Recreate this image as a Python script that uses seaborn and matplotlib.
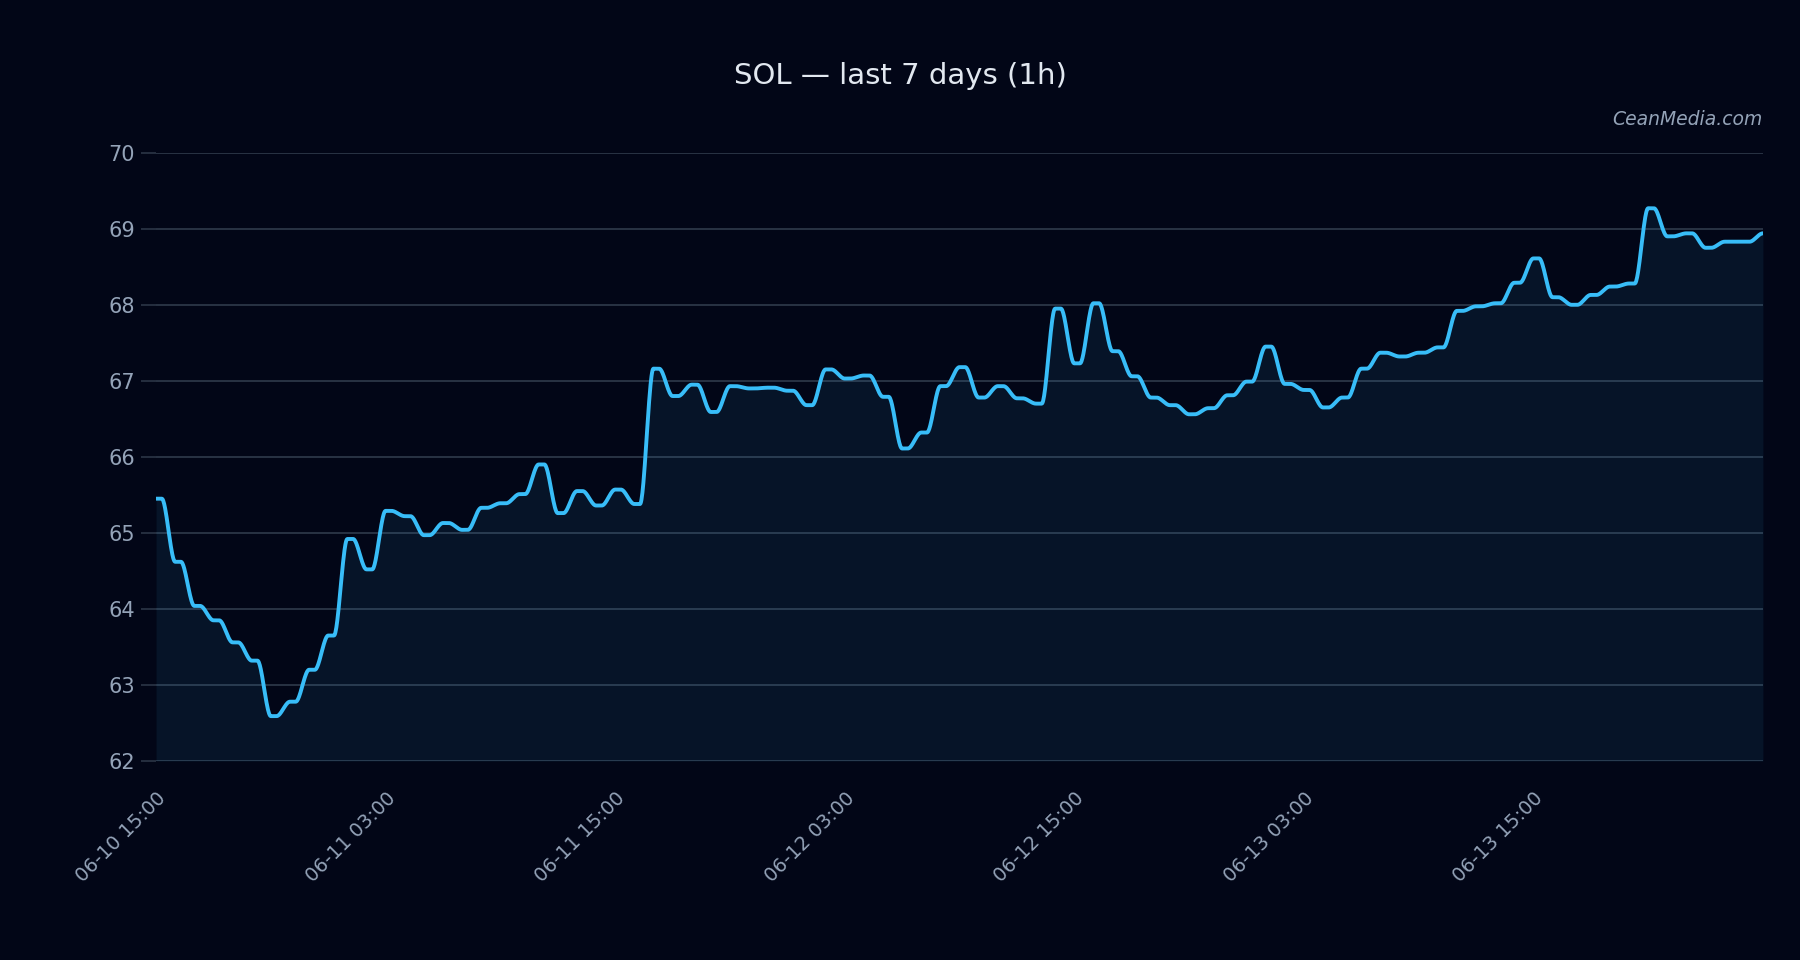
import numpy as np
import pandas as pd
import matplotlib
matplotlib.use("Agg")
import matplotlib.pyplot as plt
import matplotlib.dates as mdates
import seaborn as sns

# ---- data (hourly SOL price) ----
start_time = "2025-06-10 15:00"
prices = [
    65.45, 64.62, 64.04, 63.85, 63.56, 63.32, 62.59, 62.78, 63.20, 63.65,
    64.92, 64.52, 65.29, 65.22, 64.97, 65.13, 65.04, 65.33, 65.39, 65.51,
    65.90, 65.26, 65.55, 65.36, 65.57, 65.38, 67.16, 66.80, 66.95, 66.59,
    66.93, 66.90, 66.91, 66.87, 66.68, 67.15, 67.03, 67.07, 66.79, 66.11,
    66.32, 66.93, 67.18, 66.78, 66.93, 66.77, 66.70, 67.95, 67.23, 68.02,
    67.39, 67.06, 66.78, 66.68, 66.56, 66.64, 66.81, 66.99, 67.45, 66.96,
    66.88, 66.65, 66.78, 67.16, 67.37, 67.32, 67.37, 67.44, 67.92, 67.98,
    68.02, 68.29, 68.61, 68.10, 68.00, 68.13, 68.24, 68.28, 69.27, 68.90,
    68.94, 68.75, 68.83, 68.83, 68.94,
]
title_text = "SOL \u2014 last 7 days (1h)"
watermark = "CeanMedia.com"
y_ticks = [62, 63, 64, 65, 66, 67, 68, 69, 70]
tick_every_hours = 12

times = pd.date_range(start_time, periods=len(prices), freq="h")


def smooth_step_curve(x, y, hold=0.3, n_sub=40):
    """Each value is held briefly, then eases (smoothstep) into the next value."""
    x = np.asarray(x, float)
    y = np.asarray(y, float)
    xs, ys = [], []
    for i in range(len(x) - 1):
        t = np.linspace(0, 1, n_sub, endpoint=False)
        s = np.clip((t - hold) / (1 - hold), 0, 1)
        e = 3 * s**2 - 2 * s**3
        xs.append(x[i] + t * (x[i + 1] - x[i]))
        ys.append(y[i] + (y[i + 1] - y[i]) * e)
    xs.append([x[-1]])
    ys.append([y[-1]])
    return np.concatenate(xs), np.concatenate(ys)


xnum = mdates.date2num(times.to_pydatetime())
xs, ys = smooth_step_curve(xnum, prices)
df = pd.DataFrame({"time": pd.to_datetime(mdates.num2date(xs)).tz_localize(None), "price": ys})

# ---- style ----
bg = "#020617"
line_c = "#38bdf8"
grid_c = "#2c3647"
tick_c = "#94a3b8"

sns.set_theme(style="dark")
plt.rcParams["font.family"] = ["DejaVu Sans"]

fig = plt.figure(figsize=(18, 9.6), dpi=100, facecolor=bg)
ax = fig.add_axes([0.0867, 0.2073, 0.8927, 0.6336])
ax.set_facecolor(bg)

ax.fill_between(df["time"], df["price"], 62, color=line_c, alpha=0.08, linewidth=0, zorder=1)
sns.lineplot(data=df, x="time", y="price", ax=ax, color=line_c, linewidth=2.8,
             zorder=3, estimator=None, sort=False)
ax.lines[-1].set_solid_joinstyle("round")
ax.lines[-1].set_solid_capstyle("round")

ax.set_xlim(times[0], times[-1])
ax.set_ylim(62, 70)
ax.set_yticks(y_ticks)
ax.yaxis.grid(True, color=grid_c, linewidth=1.3, zorder=0)
ax.xaxis.grid(False)
for s in ax.spines.values():
    s.set_visible(False)

ax.set_xticks(times[0:len(times) - 1:tick_every_hours])
ax.xaxis.set_major_formatter(mdates.DateFormatter("%m-%d %H:%M"))
ax.tick_params(axis="y", colors=grid_c, labelcolor=tick_c, labelsize=15,
               length=11, width=1.2, pad=4, left=True)
ax.tick_params(axis="x", colors=grid_c, labelcolor=tick_c, labelsize=14,
               length=0, pad=20, bottom=False)
for lab in ax.get_xticklabels():
    lab.set_rotation(45)
    lab.set_ha("right")
    lab.set_rotation_mode("anchor")

ax.set_xlabel("")
ax.set_ylabel("")

fig.text(0.5, 0.921, title_text, ha="center", va="center", color="#e2e8f0", fontsize=21)
fig.text(0.9794, 0.8756, watermark, ha="right", va="center", color=tick_c,
         fontsize=13.5, style="italic")

fig.savefig("out.png", dpi=100, facecolor=bg)
